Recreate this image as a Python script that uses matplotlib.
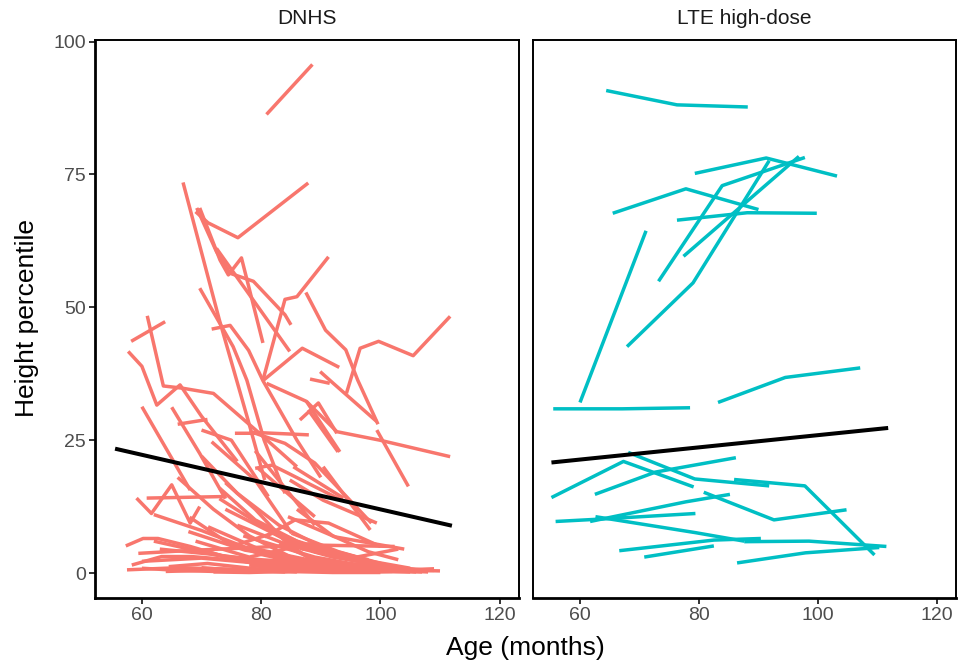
import matplotlib
matplotlib.use("Agg")
import matplotlib.pyplot as plt

plt.rcParams['font.family'] = ['Liberation Sans', 'DejaVu Sans']

panels = ["DNHS", "LTE high-dose"]
x_ticks = [60, 80, 100, 120]
y_ticks = [0, 25, 50, 75, 100]
red = "#F8766D"
teal = "#00BFC4"

# ---- DNHS trajectories (age in months, height percentile) ----
dnhs_age = [
    [80.9, 88.6],
    [69.0, 71.1, 76.1, 87.9],
    [66.9, 73.0, 77.8, 80.6],
    [69.2, 72.5, 74.8, 78.7, 84.0, 85.0],
    [69.7, 73.1, 74.5, 76.7, 80.3],
    [72.5, 84.8],
    [69.7, 75.3, 77.6, 80.5, 84.0],
    [71.7, 74.8, 77.9, 80.3, 86.0, 90.0],
    [80.3, 84.0, 86.0, 91.3],
    [80.3, 86.9, 93.1],
    [87.5, 90.8, 94.2, 96.2, 99.6],
    [94.3, 96.6, 99.7, 105.5, 111.7],
    [89.9, 92.1, 99.4],
    [88.2, 91.5],
    [80.9, 87.6, 92.7, 99.9, 111.7],
    [87.6, 93.2],
    [86.5, 89.6, 92.7],
    [58.2, 63.9],
    [60.9, 63.6, 66.7, 72.0, 79.0, 86.0],
    [57.7, 60.0, 62.5, 66.4, 70.0, 76.0],
    [60.0, 68.1],
    [65.0, 69.7, 74.0],
    [66.0, 71.0],
    [59.1, 61.6, 65.0, 68.1, 69.7],
    [60.8, 74.2],
    [70.0, 75.0, 81.2],
    [75.6, 79.0, 84.0, 89.0, 98.5],
    [79.0, 81.8, 84.5, 93.5],
    [99.4, 104.7],
    [87.9, 92.9],
    [84.5, 92.4],
    [71.7, 79.0, 85.1],
    [79.5, 89.0],
    [78.0, 88.0],
    [84.8, 90.4, 99.4],
    [85.4, 93.8],
    [90.4, 98.3],
    [57.3, 60.2, 62.7, 68.1, 73.5, 80.0, 90.0, 100.0],
    [59.4, 68.9, 77.3, 86.8, 102.4],
    [58.3, 63.3, 68.3, 78.0, 90.0, 103.0],
    [57.5, 66.0, 76.0, 87.0, 98.0, 109.0],
    [60.0, 70.0, 80.0, 92.0, 104.0],
    [64.0, 74.0, 84.0, 95.0, 107.0],
    [67.8, 77.3, 88.0, 98.0],
    [71.1, 80.1, 90.0, 101.0],
    [80.6, 85.7, 91.3, 100.0],
    [69.0, 78.0, 88.0, 96.0, 103.0],
    [63.0, 72.0, 82.0, 93.0, 104.0],
    [74.0, 82.0, 89.0, 97.0, 105.0],
    [76.0, 84.0, 92.0, 100.0, 108.0],
    [82.0, 90.0, 98.0, 106.0, 110.0],
    [85.1, 93.0, 101.0],
    [64.5, 71.0, 79.0, 86.0],
    [72.0, 78.0, 84.0, 92.0, 100.0],
    [78.0, 85.0, 93.0, 102.0, 109.0],
    [92.4, 99.0, 104.0],
    [86.0, 92.0, 98.0, 103.0],
    [68.0, 74.0, 80.0, 86.0],
    [75.0, 82.0, 87.0, 94.0, 98.0],
    [88.0, 94.0, 100.0, 106.0],
    [62.0, 70.0, 77.0, 85.0],
    [73.0, 79.0, 86.0, 95.0],
    [70.0, 76.0, 83.0, 90.0, 97.0],
    [66.0, 72.0, 78.0, 85.0],
    [73.0, 80.0, 88.0, 95.0, 102.0],
    [75.0, 80.0, 85.0, 90.0, 96.0, 102.0],
    [70.0, 77.0, 84.0, 91.0, 98.0, 105.0],
    [80.0, 86.0, 92.0, 98.0, 104.0, 108.0],
    [60.0, 66.0, 72.0, 78.0, 84.0],
    [83.0, 88.0, 93.0, 99.0],
    [77.0, 83.0, 89.0, 95.0, 101.0],
    [62.0, 68.0, 74.0, 80.0],
    [71.0, 76.0, 81.0, 86.0, 91.0],
    [89.0, 95.0, 101.0, 107.0],
    [79.0, 84.0, 89.0],
    [74.0, 79.0, 84.0, 89.0],
]
dnhs_pct = [
    [86.3, 95.7],
    [68.0, 65.9, 63.1, 73.4],
    [73.5, 47.6, 28.8, 17.5],
    [68.7, 60.5, 56.4, 54.9, 48.6, 46.7],
    [68.7, 58.9, 56.1, 59.3, 43.3],
    [61.1, 41.7],
    [53.6, 42.6, 36.3, 25.0, 15.0],
    [45.9, 46.6, 41.9, 36.2, 25.0, 18.0],
    [36.3, 51.5, 52.0, 59.5],
    [36.2, 42.3, 38.7],
    [52.8, 45.7, 42.0, 36.3, 28.0],
    [33.8, 42.3, 43.6, 40.9, 48.3],
    [37.9, 35.7, 28.5],
    [36.5, 35.7],
    [35.7, 32.3, 26.6, 25.0, 21.9],
    [32.3, 22.8],
    [28.8, 32.0, 26.3],
    [43.6, 47.3],
    [48.4, 35.2, 34.8, 33.8, 27.0, 20.0],
    [41.7, 38.9, 31.6, 35.4, 29.5, 21.0],
    [31.3, 15.6],
    [31.2, 22.5, 14.0],
    [28.0, 28.9],
    [14.1, 11.2, 16.6, 9.4, 12.5],
    [14.1, 14.4],
    [26.9, 25.0, 14.4],
    [26.3, 26.3, 24.4, 20.7, 9.4],
    [19.7, 20.3, 18.8, 13.7],
    [26.9, 16.3],
    [30.7, 22.8],
    [10.6, 6.8],
    [24.7, 17.5, 7.5],
    [19.7, 10.6],
    [26.5, 26.0],
    [17.5, 13.7, 9.4],
    [20.0, 14.1],
    [20.0, 8.1],
    [5.1, 6.5, 6.5, 5.0, 3.2, 2.5, 1.8, 1.2],
    [3.7, 4.3, 4.7, 5.3, 5.0],
    [1.5, 3.1, 3.1, 2.2, 1.0, 0.4],
    [0.6, 1.0, 0.7, 0.4, 0.3, 0.5],
    [2.2, 2.8, 1.8, 1.0, 0.6],
    [0.3, 0.6, 0.9, 0.5, 0.2],
    [7.8, 4.3, 2.4, 1.1],
    [8.7, 4.3, 2.0, 0.8],
    [6.8, 10.0, 9.4, 5.0],
    [6.0, 3.0, 5.5, 3.0, 4.5],
    [4.5, 3.5, 2.0, 1.3, 0.5],
    [12.0, 7.5, 4.0, 2.5, 0.9],
    [9.0, 5.5, 3.0, 1.5, 0.3],
    [3.0, 1.5, 0.8, 0.5, 0.4],
    [7.5, 4.0, 1.5],
    [1.2, 1.8, 0.8, 0.2],
    [0.2, 0.1, 0.3, 0.1, 0.1],
    [1.5, 0.6, 0.2, 0.5, 0.8],
    [6.8, 5.5, 4.5],
    [12.0, 7.0, 4.0, 2.5],
    [10.5, 6.0, 3.5, 2.0],
    [5.0, 7.5, 4.5, 3.5, 2.5],
    [2.0, 1.0, 0.6, 0.2],
    [11.0, 8.0, 5.0, 2.0],
    [16.0, 10.0, 6.0, 3.0],
    [22.0, 15.0, 9.0, 5.0, 2.0],
    [18.0, 12.0, 7.0, 3.0],
    [14.0, 9.0, 5.0, 2.5, 1.0],
    [0.5, 0.3, 0.8, 0.4, 0.2, 0.3],
    [1.0, 0.4, 0.2, 0.6, 0.3, 0.2],
    [0.9, 1.4, 0.6, 0.2, 0.4, 0.2],
    [0.9, 0.5, 0.3, 0.6, 0.2],
    [5.5, 3.0, 1.5, 0.6],
    [7.0, 5.0, 3.0, 1.8, 1.0],
    [6.0, 4.5, 3.0, 1.5],
    [4.0, 2.5, 1.5, 0.8, 0.3],
    [4.0, 2.5, 1.2, 0.6],
    [23.0, 16.0, 9.0],
    [17.0, 12.0, 6.0, 2.0],
]

# ---- LTE high-dose trajectories ----
lte_age = [
    [64.4, 76.3, 88.2],
    [79.3, 91.3, 103.2],
    [65.5, 77.8, 90.0],
    [76.3, 88.1, 99.8],
    [60.0, 71.1],
    [73.2, 83.9, 97.8],
    [77.4, 96.8],
    [67.9, 79.0, 91.8],
    [55.5, 67.1, 78.5],
    [83.2, 94.5, 107.1],
    [55.2, 67.3, 79.1],
    [68.1, 79.3, 91.8],
    [85.9, 97.8, 109.5],
    [62.5, 72.7, 86.2],
    [80.8, 92.6, 104.8],
    [55.9, 62.6, 79.4],
    [61.7, 77.8, 85.2],
    [62.6, 79.4, 87.6],
    [87.6, 98.5, 111.5],
    [66.6, 82.5, 90.4],
    [70.8, 82.5],
    [86.4, 97.9, 110.3],
]
lte_pct = [
    [90.8, 88.1, 87.7],
    [75.2, 78.1, 74.7],
    [67.7, 72.3, 68.4],
    [66.4, 67.8, 67.7],
    [32.1, 64.4],
    [54.9, 72.9, 78.2],
    [59.6, 78.4],
    [42.6, 54.6, 77.6],
    [30.9, 30.9, 31.1],
    [32.1, 36.8, 38.6],
    [14.2, 21.0, 16.2],
    [22.7, 17.7, 16.4],
    [17.6, 16.4, 3.4],
    [14.8, 19.0, 21.7],
    [15.2, 10.0, 11.9],
    [9.7, 10.1, 11.2],
    [9.7, 13.4, 14.8],
    [10.6, 7.6, 6.0],
    [5.9, 6.0, 5.0],
    [4.2, 6.2, 6.5],
    [3.0, 5.1],
    [1.9, 3.8, 4.8],
]

# ---- fitted lines (endpoints) ----
fit_age = [[55.5, 112.0], [55.2, 111.8]]
fit_pct = [[23.4, 8.9], [20.8, 27.3]]

W, H = 959, 663
fig = plt.figure(figsize=(W / 100, H / 100), dpi=100)
axL = fig.add_axes([94.8 / W, 1 - 598 / H, (518.7 - 94.8) / W, (598 - 39.5) / H])
axR = fig.add_axes([533 / W, 1 - 598 / H, (956 - 533) / W, (598 - 39.5) / H])

for ax, ages, pcts, col, k in [(axL, dnhs_age, dnhs_pct, red, 0),
                                (axR, lte_age, lte_pct, teal, 1)]:
    for a, p in zip(ages, pcts):
        ax.plot(a, p, color=col, lw=2.5, solid_capstyle='butt', solid_joinstyle='round')
    ax.plot(fit_age[k], fit_pct[k], color='black', lw=2.9, solid_capstyle='butt')
    ax.set_xlim(52.1, 123.2)
    ax.set_ylim(-4.7, 100.4)
    ax.set_xticks(x_ticks)
    ax.set_yticks(y_ticks)
    for s in ax.spines.values():
        s.set_linewidth(1.4)
        s.set_color('black')
    ax.spines['bottom'].set_linewidth(2.0)
    ax.tick_params(axis='both', length=4, width=1.4, color='#333333',
                   labelcolor='#4D4D4D', labelsize=14, pad=2.5)
    fig.text((ax.get_position().x0 + ax.get_position().x1) / 2, 1 - 18 / H,
             panels[k], ha='center', va='center', fontsize=15, color='#1A1A1A')

axL.spines['left'].set_linewidth(2.0)
axR.tick_params(axis='y', left=False, labelleft=False)

fig.text(525 / W, 1 - 648 / H, "Age (months)", ha='center', va='center', fontsize=19)
fig.text(27 / W, 1 - 318 / H, "Height percentile", ha='center', va='center',
         rotation=90, fontsize=19)

fig.savefig("out.png", dpi=100)
